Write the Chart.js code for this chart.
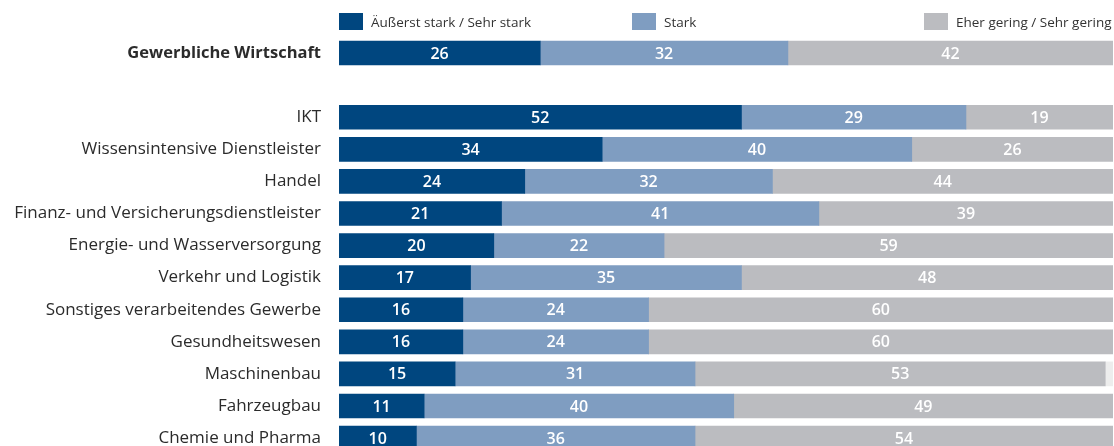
<!DOCTYPE html>
<html>
<head>
<meta charset="utf-8">
<script src="https://cdn.jsdelivr.net/npm/chart.js@4/dist/chart.umd.min.js"></script>
<style>
    html, body { margin: 0; padding: 0; background: #fff; overflow: hidden; }
    #wrap { position: relative; width: 1114px; height: 446px; overflow: hidden; }
    #legend { position: absolute; top: 0; left: 0; width: 1114px; height: 36px; }
    .item { position: absolute; top: 13px; height: 17px; display: flex; align-items: center;
            font-family: 'Open Sans', sans-serif; font-size: 13.5px; color: #333; white-space: nowrap; }
    .item span.box { display: inline-block; width: 24px; height: 17px; margin-right: 8px; }
    canvas { position: absolute; top: 0; left: 0; }
</style>
</head>
<body>
<div id="wrap">
    <canvas id="chart" width="1114" height="474"></canvas>
    <div id="legend"></div>
</div>
<script>
// categories (the empty one is the gap below the total)
const categories = [
    'Gewerbliche Wirtschaft', '', 'IKT', 'Wissensintensive Dienstleister', 'Handel',
    'Finanz- und Versicherungsdienstleister', 'Energie- und Wasserversorgung',
    'Verkehr und Logistik', 'Sonstiges verarbeitendes Gewerbe', 'Gesundheitswesen',
    'Maschinenbau', 'Fahrzeugbau', 'Chemie und Pharma'
];

// shares in percent
const sehrStark = [26, null, 52, 34, 24, 21, 20, 17, 16, 16, 15, 11, 10];
const stark     = [32, null, 29, 40, 32, 41, 22, 35, 24, 24, 31, 40, 36];
const gering    = [42, null, 19, 26, 44, 39, 59, 48, 60, 60, 53, 49, 54];
const keineAngabe = [0, null, 0, 0, 0, 0, 0, 0, 0, 0, 1, 0, 0];

const seriesLabels = ['Äußerst stark / Sehr stark', 'Stark', 'Eher gering / Sehr gering'];
const colors = ['#00467F', '#7F9DC1', '#BBBCC0', '#EDEDED'];

// legend columns (x of the box)
const legendX = [339, 632, 924];
let legend = document.getElementById('legend');
seriesLabels.forEach((label, i) => {
    let div = document.createElement('div');
    div.className = 'item';
    div.style.left = legendX[i] + 'px';
    div.innerHTML = `<span class="box" style="background:${colors[i]}"></span>${label}`;
    legend.appendChild(div);
});

// write the values in the middle of each segment
const valueLabels = {
    id: 'valueLabels',
    afterDatasetsDraw(chart) {
        const ctx = chart.ctx;
        const area = chart.chartArea;
        ctx.save();
        ctx.fillStyle = '#fff';
        ctx.font = '600 16px "Open Sans", sans-serif';
        ctx.textAlign = 'center';
        ctx.textBaseline = 'middle';
        chart.data.datasets.forEach((ds, di) => {
            if (di > 2) return;
            chart.getDatasetMeta(di).data.forEach((bar, i) => {
                const v = ds.data[i];
                if (!v) return;
                const left = Math.max(bar.base, area.left);
                const right = Math.min(bar.x, area.right);
                ctx.fillText(v, (left + right) / 2, bar.y + 1);
            });
        });
        ctx.restore();
    }
};

new Chart(document.getElementById('chart'), {
    type: 'bar',
    data: {
        labels: categories,
        datasets: [
            { label: seriesLabels[0], data: sehrStark, backgroundColor: colors[0] },
            { label: seriesLabels[1], data: stark, backgroundColor: colors[1] },
            { label: seriesLabels[2], data: gering, backgroundColor: colors[2] },
            { label: 'keine Angabe', data: keineAngabe, backgroundColor: colors[3] }
        ]
    },
    options: {
        indexAxis: 'y',
        responsive: false,
        animation: false,
        layout: { padding: { top: 37, right: 1, bottom: 0, left: 0 } },
        datasets: { bar: { barThickness: 24, borderWidth: 0, clip: 0 } },
        scales: {
            x: { stacked: true, min: 0, max: 100, display: false },
            y: {
                stacked: true,
                grid: { display: false },
                border: { display: false },
                afterFit: scale => { scale.width = 339; },
                ticks: {
                    padding: 10,
                    color: '#2b2b2b',
                    font: ctx => ({
                        family: '"Open Sans", sans-serif',
                        size: ctx.index === 0 ? 16.5 : 17,
                        weight: ctx.index === 0 ? 'bold' : 'normal'
                    })
                }
            }
        },
        plugins: {
            legend: { display: false },
            tooltip: { enabled: false }
        }
    },
    plugins: [valueLabels]
});
</script>
</body>
</html>
